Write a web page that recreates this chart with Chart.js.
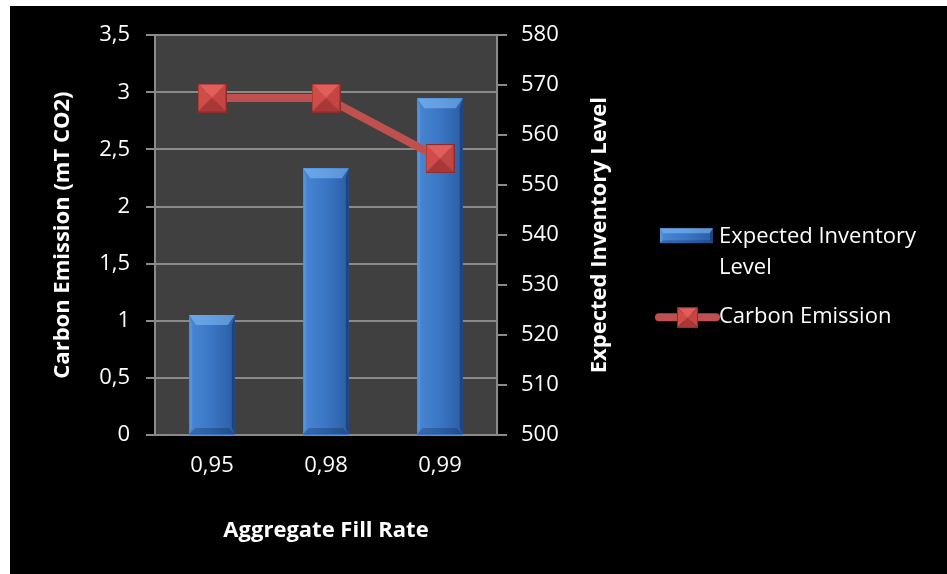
<!DOCTYPE html>
<html>
<head>
<meta charset="utf-8">
<script src="https://cdn.jsdelivr.net/npm/chart.js@4"></script>
<style>
  html, body { margin: 0; padding: 0; background: #fff; }
  #wrap { position: absolute; left: 10px; top: 6px; width: 937px; height: 568px; background: #000; }
</style>
</head>
<body>
<div id="wrap"><canvas id="chart"></canvas></div>
<script>
const fillRates = ["0,95", "0,98", "0,99"];
const inventoryLevel = [524, 553.4, 567.4];
const carbonEmission = [2.95, 2.95, 2.42];
const seriesNames = ["Expected Inventory Level", "Carbon Emission"];
const axisTitles = ["Carbon Emission (mT CO2)", "Expected Inventory Level", "Aggregate Fill Rate"];

const FONT = "'Open Sans', sans-serif";
const GRID = "#8a8a8a";

function poly(ctx, pts, color) {
  ctx.beginPath();
  ctx.moveTo(pts[0][0], pts[0][1]);
  for (let p of pts.slice(1)) ctx.lineTo(p[0], p[1]);
  ctx.closePath();
  ctx.fillStyle = color;
  ctx.fill();
}

function makeMarker(size) {
  const c = document.createElement("canvas");
  c.width = size;
  c.height = size;
  const g = c.getContext("2d");
  const m = size / 2;
  poly(g, [[0, 0], [size, 0], [m, m]], "#e35e5b");
  poly(g, [[0, 0], [m, m], [0, size]], "#d04c49");
  poly(g, [[size, 0], [size, size], [m, m]], "#c64441");
  poly(g, [[0, size], [m, m], [size, size]], "#a83735");
  g.strokeStyle = "#8c2d2b";
  g.lineWidth = 1;
  g.strokeRect(0.5, 0.5, size - 1, size - 1);
  return c;
}

const marker = makeMarker(29);
const legendMarker = makeMarker(21);

function drawBevelBar(ctx, l, r, t, b, bevel) {
  const g = ctx.createLinearGradient(l, 0, r, 0);
  g.addColorStop(0, "#4886d4");
  g.addColorStop(0.5, "#3a76c4");
  g.addColorStop(1, "#2b5ea4");
  ctx.fillStyle = g;
  ctx.fillRect(l, t, r - l, b - t);
  const s = Math.min(bevel, (b - t) / 2);
  poly(ctx, [[l, t], [r, t], [r - s * 0.7, t + s], [l + s * 0.7, t + s]], "rgba(140,200,255,0.5)");
  poly(ctx, [[l, t], [l + 3, t + s], [l + 3, b - s * 0.6], [l, b]], "rgba(255,255,255,0.1)");
  poly(ctx, [[r, t], [r - 3, t + s], [r - 3, b - s * 0.6], [r, b]], "rgba(0,0,40,0.3)");
  poly(ctx, [[l, b], [r, b], [r - s * 0.6, b - s * 0.6], [l + s * 0.6, b - s * 0.6]], "rgba(0,20,60,0.25)");
}

const plotBackground = {
  id: "plotBackground",
  beforeDraw(chart) {
    const { ctx, chartArea: a } = chart;
    ctx.save();
    ctx.fillStyle = "#404040";
    ctx.fillRect(a.left, a.top, a.right - a.left, a.bottom - a.top);
    ctx.restore();
  },
};

const bevelBars = {
  id: "bevelBars",
  afterDatasetDraw(chart, args) {
    if (args.meta.type !== "bar") return;
    const ctx = chart.ctx;
    const bottom = chart.chartArea.bottom - 1;
    ctx.save();
    args.meta.data.forEach((bar) => {
      drawBevelBar(ctx, bar.x - bar.width / 2, bar.x + bar.width / 2, bar.y, Math.min(bar.base, bottom), 10);
    });
    ctx.restore();
  },
};

function wrapText(ctx, text, maxWidth) {
  const lines = [];
  let line = "";
  for (let word of text.split(" ")) {
    const test = line ? line + " " + word : word;
    if (line && ctx.measureText(test).width > maxWidth) {
      lines.push(line);
      line = word;
    } else line = test;
  }
  lines.push(line);
  return lines;
}

const extras = {
  id: "extras",
  afterDraw(chart) {
    const { ctx, chartArea: a } = chart;
    const y1 = chart.scales.y1;
    ctx.save();
    // right axis title, reading bottom to top
    ctx.fillStyle = "#fff";
    ctx.font = "bold 22px " + FONT;
    ctx.textAlign = "center";
    ctx.textBaseline = "middle";
    ctx.translate(y1.right - 37, (a.top + a.bottom) / 2);
    ctx.rotate(-Math.PI / 2);
    ctx.fillText(axisTitles[1], 0, 0);
    ctx.restore();

    // legend
    ctx.save();
    const lx = y1.right + 23;
    const tx = lx + 59;
    ctx.font = "22px " + FONT;
    ctx.fillStyle = "#fff";
    ctx.textAlign = "left";
    ctx.textBaseline = "middle";
    drawBevelBar(ctx, lx, lx + 53, a.top + 193, a.top + 208, 5);
    ctx.fillStyle = "#fff";
    const lines = wrapText(ctx, seriesNames[0], 215);
    lines.forEach((ln, i) => ctx.fillText(ln, tx, a.top + 202 + i * 31));

    const ly = a.top + 282;
    ctx.strokeStyle = "#c0504d";
    ctx.lineWidth = 8;
    ctx.lineCap = "round";
    ctx.beginPath();
    ctx.moveTo(lx - 1, ly);
    ctx.lineTo(lx + 56, ly);
    ctx.stroke();
    ctx.drawImage(legendMarker, lx + 17, ly - 10);
    ctx.fillStyle = "#fff";
    ctx.fillText(seriesNames[1], tx, ly);
    ctx.restore();
  },
};

const commaTick = (v) => String(v).replace(".", ",");

function main() {
  new Chart(document.getElementById("chart"), {
    data: {
      labels: fillRates,
      datasets: [
        {
          type: "line",
          label: seriesNames[1],
          data: carbonEmission,
          yAxisID: "y",
          borderColor: "#c0504d",
          backgroundColor: "#c0504d",
          borderWidth: 8,
          tension: 0,
          pointStyle: marker,
          pointRadius: 14,
          order: 0,
        },
        {
          type: "bar",
          label: seriesNames[0],
          data: inventoryLevel,
          yAxisID: "y1",
          backgroundColor: "#3a76c4",
          barPercentage: 0.4,
          categoryPercentage: 1,
          order: 1,
        },
      ],
    },
    options: {
      responsive: true,
      maintainAspectRatio: false,
      animation: false,
      layout: { padding: { top: 29, right: 310, bottom: 0, left: 0 } },
      plugins: { legend: { display: false }, tooltip: { enabled: false } },
      scales: {
        x: {
          grid: { display: false, drawTicks: false },
          border: { display: false },
          ticks: { color: "#fff", font: { family: FONT, size: 22 }, padding: 18 },
          title: {
            display: true,
            text: axisTitles[2],
            color: "#fff",
            font: { family: FONT, size: 22, weight: "bold" },
            padding: { top: 0, bottom: 30 },
          },
          afterFit: (s) => { s.height = 139; },
        },
        y: {
          position: "left",
          min: 0,
          max: 3.5,
          ticks: {
            stepSize: 0.5,
            color: "#fff",
            font: { family: FONT, size: 22 },
            padding: 16,
            callback: commaTick,
          },
          grid: { color: GRID, lineWidth: 2, tickLength: 9 },
          border: { color: GRID, width: 2 },
          title: {
            display: true,
            text: axisTitles[0],
            color: "#fff",
            font: { family: FONT, size: 22, weight: "bold" },
            padding: { top: 40 },
          },
          afterFit: (s) => { s.width = 145; },
        },
        y1: {
          position: "right",
          min: 500,
          max: 580,
          ticks: { stepSize: 10, color: "#fff", font: { family: FONT, size: 22 }, padding: 14 },
          grid: { drawOnChartArea: false, color: GRID, lineWidth: 2, tickLength: 10 },
          border: { color: GRID, width: 2 },
          afterFit: (s) => { s.width = 140; },
        },
      },
    },
    plugins: [plotBackground, bevelBars, extras],
  });
}

document.addEventListener("DOMContentLoaded", () => main());
</script>
</body>
</html>
